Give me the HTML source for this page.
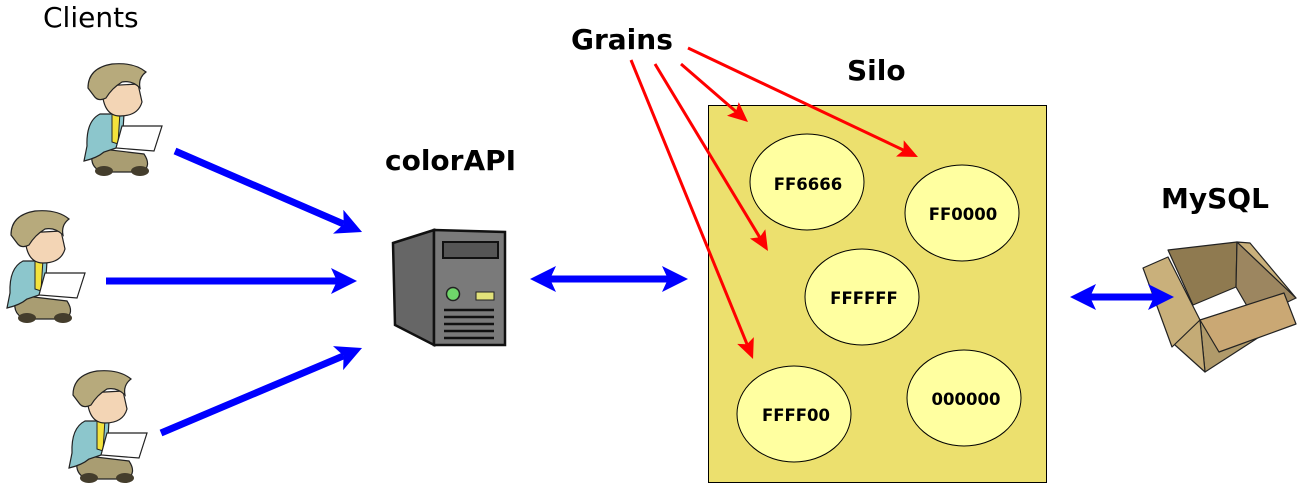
<!DOCTYPE html>
<html><head><meta charset="utf-8"><style>
html,body{margin:0;padding:0;background:#fff}
svg{display:block}
text{font-family:"DejaVu Sans","Liberation Sans",sans-serif}
</style></head><body>
<svg width="1307" height="485" viewBox="0 0 1307 485" xmlns="http://www.w3.org/2000/svg">
<defs>
<marker id="bh" markerUnits="userSpaceOnUse" markerWidth="30" markerHeight="30" refX="6" refY="13" orient="auto">
<polygon points="0,0 26,13 0,26 6,13" fill="#0000ff"/></marker>
<marker id="bt" markerUnits="userSpaceOnUse" markerWidth="30" markerHeight="30" refX="20" refY="13" orient="auto">
<polygon points="26,0 0,13 26,26 20,13" fill="#0000ff"/></marker>
<marker id="rh" markerUnits="userSpaceOnUse" markerWidth="24" markerHeight="24" refX="4" refY="9" orient="auto">
<polygon points="0,0 20,9 0,18 4,9" fill="#ff0000"/></marker>
<g id="guy">
<path d="M12,82 Q5,100 20,106 L60,106 Q70,100 62,88 Z" fill="#a99d72" stroke="#222" stroke-width="1.2"/>
<ellipse cx="22" cy="105" rx="9" ry="5" fill="#443d2c"/>
<ellipse cx="58" cy="105" rx="9" ry="5" fill="#443d2c"/>
<path d="M18,48 Q4,55 5,80 L2,95 Q15,92 22,86 L40,80 L42,48 Z" fill="#8cc6cc" stroke="#222" stroke-width="1.2"/>
<path d="M30,46 L38,46 L36,78 L30,76 Z" fill="#f3e23c" stroke="#222" stroke-width="1"/>
<path d="M40,60 L80,60 L72,85 L34,82 Z" fill="#fff" stroke="#222" stroke-width="1.2"/>
<path d="M20,20 Q20,50 38,50 Q56,50 60,36 L56,18 Z" fill="#f3d5b5" stroke="#222" stroke-width="1.2"/>
<path d="M6,22 Q6,2 30,-2 Q52,-4 64,6 Q56,12 58,22 Q50,14 40,16 Q30,22 24,32 Q16,36 12,30 Z" fill="#b7aa7c" stroke="#222" stroke-width="1.2"/>
</g>
</defs>

<text x="43" y="27" font-size="28">Clients</text>
<use href="#guy" x="82" y="66"/>
<use href="#guy" x="5" y="213"/>
<use href="#guy" x="67" y="373"/>

<line x1="175" y1="151" x2="343.7" y2="224.1" stroke="#0000ff" stroke-width="7" marker-end="url(#bh)"/>
<line x1="106" y1="281" x2="337" y2="281" stroke="#0000ff" stroke-width="7" marker-end="url(#bh)"/>
<line x1="161" y1="433" x2="343.6" y2="355.8" stroke="#0000ff" stroke-width="7" marker-end="url(#bh)"/>

<text x="385" y="170" font-size="28" font-weight="bold">colorAPI</text>
<g stroke="#111" stroke-width="2.5">
<path d="M393,243 L434,230 L434,345 L395,325 Z" fill="#666"/>
<path d="M434,230 L505,232 L505,345 L434,345 Z" fill="#7a7a7a"/>
<rect x="443" y="242" width="55" height="16" fill="#555" stroke-width="2"/>
</g>
<circle cx="453" cy="294" r="6.5" fill="#6fd66a" stroke="#222" stroke-width="1.5"/>
<rect x="476" y="292" width="18" height="8" fill="#e2e27a" stroke="#222" stroke-width="1"/>
<g stroke="#111" stroke-width="2.5"><line x1="444" y1="310" x2="494" y2="310"/><line x1="444" y1="317" x2="494" y2="317"/><line x1="444" y1="324" x2="494" y2="324"/><line x1="444" y1="331" x2="494" y2="331"/><line x1="444" y1="338" x2="494" y2="338"/></g>

<line x1="550" y1="279" x2="668" y2="279" stroke="#0000ff" stroke-width="7" marker-start="url(#bt)" marker-end="url(#bh)"/>

<text x="571" y="49" font-size="28" font-weight="bold">Grains</text>
<text x="847" y="80" font-size="28" font-weight="bold">Silo</text>
<rect x="708.5" y="105.5" width="338" height="377" fill="#ece06e" stroke="#000" stroke-width="1"/>
<g fill="#ffffa0" stroke="#000" stroke-width="1">
<ellipse cx="807" cy="182" rx="57" ry="48"/>
<ellipse cx="962" cy="213" rx="57" ry="48"/>
<ellipse cx="862" cy="297" rx="57" ry="48"/>
<ellipse cx="794" cy="414" rx="57" ry="48"/>
<ellipse cx="964" cy="398" rx="57" ry="48"/>
</g>
<g font-size="16.5" font-weight="bold" text-anchor="middle">
<text x="808" y="190">FF6666</text>
<text x="963" y="220">FF0000</text>
<text x="864" y="304">FFFFFF</text>
<text x="796" y="421">FFFF00</text>
<text x="966" y="405">000000</text>
</g>
<g stroke="#ff0000" stroke-width="3" fill="none">
<line x1="688" y1="48" x2="903.5" y2="150.1" marker-end="url(#rh)"/>
<line x1="681" y1="64" x2="735.9" y2="111.5" marker-end="url(#rh)"/>
<line x1="655" y1="64" x2="759.7" y2="237.3" marker-end="url(#rh)"/>
<line x1="631" y1="60" x2="747" y2="344.2" marker-end="url(#rh)"/>
</g>

<text x="1161" y="208" font-size="28" font-weight="bold">MySQL</text>
<g stroke="#222" stroke-width="1.2" stroke-linejoin="round">
<path d="M1168,250 L1237,242 L1236,287 L1193,305 Z" fill="#8f7a50"/>
<path d="M1237,242 L1296,298 L1254,318 L1236,287 Z" fill="#9c8660"/>
<path d="M1200,320 L1254,318 L1270,330 L1205,372 Z" fill="#b09a6a"/>
<path d="M1200,320 L1205,372 L1175,345 L1170,330 Z" fill="#c4ab76"/>
<path d="M1143,268 L1168,257 L1200,320 L1172,347 Z" fill="#c9b07b"/>
<path d="M1200,320 L1284,293 L1296,324 L1219,352 Z" fill="#caa874"/>
<path d="M1237,242 L1250,243 L1296,298 Z" fill="#c9b07b"/>
</g>
<line x1="1090" y1="297" x2="1154" y2="297" stroke="#0000ff" stroke-width="7" marker-start="url(#bt)" marker-end="url(#bh)"/>
</svg>
</body></html>
